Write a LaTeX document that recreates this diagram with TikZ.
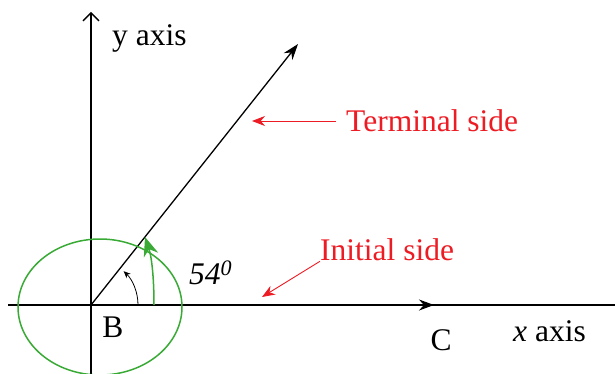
\documentclass[tikz,border=0pt]{standalone}
\usepackage{fontspec}
\setmainfont{Liberation Serif}
\usetikzlibrary{arrows.meta}
\definecolor{redc}{RGB}{237,28,36}
\definecolor{greenc}{RGB}{57,170,53}
\begin{document}
\begin{tikzpicture}[x=1pt,y=-1pt,
  axis/.style={line width=1.3pt,black},
  lbl/.style={font=\fontsize{31.5}{36}\selectfont,inner sep=0pt},
  redlbl/.style={lbl,text=redc},
  redarrow/.style={redc,line width=0.9pt,-{Stealth[length=13pt,width=10pt]}},
  greencurve/.style={greenc,line width=1.5pt}]
\useasboundingbox (0,0) rectangle (615,374);
\coordinate (B) at (91,305);
\coordinate (xl) at (8,305);
\coordinate (xr) at (615,305);
\coordinate (xa) at (434,305);
\coordinate (yb) at (91,374);
\coordinate (yt) at (91,12);
\coordinate (term) at (298,44);
% axes
\draw[axis] (xl) -- (xr);
\draw[axis,-{Stealth[length=15pt,width=11pt]}] (B) -- (xa);
\draw[axis,-{Straight Barb[length=8pt,width=16pt]}] (yb) -- (yt);
\draw[axis,-{Stealth[length=16pt,width=11pt]}] (B) -- (term);
% green closed curve
\draw[greencurve] (100,307) ellipse [x radius=82, y radius=68];
% green angle arrow
\coordinate (gs) at (154,305);
\coordinate (ge) at (145,237);
\draw[greencurve,-{Stealth[length=19pt,width=15pt]}] (gs) .. controls (154,280) and (152,258) .. (ge);
% black small angle arrow
\draw[black,line width=0.8pt,-{Stealth[length=7pt,width=6pt]}] (138,305) arc[start angle=0,end angle=-46,radius=47];
% labels
\node[lbl,anchor=west] (ylab) at (112,38) {y axis};
\node[lbl,anchor=west] (xlab) at (513,331) {\textit{x} axis};
\node[lbl] (Blab) at (113,327) {B};
\node[lbl] (Clab) at (441,340) {C};
\node[lbl,anchor=west] (ang) at (189,273) {\textit{54}\textsuperscript{\textit{0}}};
\node[redlbl,anchor=west] (tlab) at (346,121) {Terminal side};
\node[redlbl,anchor=west] (ilab) at (320,250) {Initial side};
\coordinate (tend) at (252,121);
\coordinate (iend) at (262,297);
\draw[redarrow] (tlab.west) ++(-10,0) -- (tend);
\draw[redarrow] (ilab.south west) ++(0,0) -- (iend);
\end{tikzpicture}
\end{document}
